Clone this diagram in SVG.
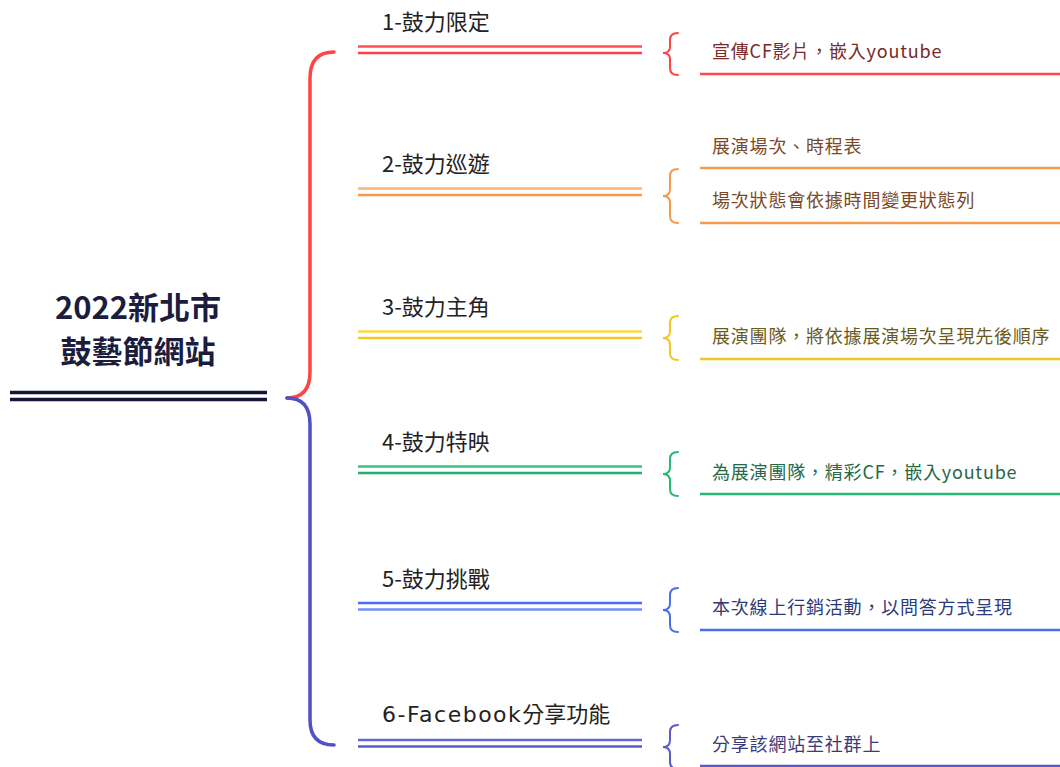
<svg xmlns="http://www.w3.org/2000/svg" width="1060" height="767" viewBox="0 0 1060 767">
<style>
text{font-family:"Noto Sans CJK TC","Noto Sans",sans-serif}
.root{font-size:31px;font-weight:700;fill:#1c1c3c;text-anchor:middle}
.lbl{font-size:22px;fill:#222}
.lat{font-family:"DejaVu Sans",sans-serif;letter-spacing:1.5px}
.leaf{font-size:18px;letter-spacing:0.8px}
.dl{stroke-width:2.6;fill:none}
.ln{stroke-width:2.6;fill:none}
.br{stroke-width:2;fill:none;stroke-linecap:round}
.mb{stroke-width:3.5;fill:none;stroke-linecap:round}
</style>
<rect width="1060" height="767" fill="#fff"/>
<g id="root">
<text class="root" x="138" y="319">2022新北市</text>
<text class="root" x="138" y="363">鼓藝節網站</text>
<line x1="10" y1="392.5" x2="267" y2="392.5" stroke="#14143a" stroke-width="3.5"/>
<line x1="10" y1="399.5" x2="267" y2="399.5" stroke="#14143a" stroke-width="3.5"/>
</g>
<g id="connectors">
<path class="mb" stroke="#ff4444" d="M334,52 Q310,52 310,78 L310,372 Q310,398 287,398"/>
<path class="mb" stroke="#5050c8" d="M287,398 Q310,398 310,424 L310,720 Q310,745 334,745"/>
</g>
<g id="n1">
<text class="lbl" x="382" y="30">1-鼓力限定</text>
<line class="dl" x1="358" y1="46.5" x2="642" y2="46.5" stroke="#ff5050"/>
<line class="dl" x1="358" y1="53" x2="642" y2="53" stroke="#ff4040"/>
<path class="br" stroke="#ff4444" d="M678,33 Q670,33 670,40 L670,47 Q670,53 663,53 Q670,53 670,59 L670,68 Q670,75 678,75"/>
<text class="leaf" x="712" y="58" fill="#7a2828">宣傳CF影片，嵌入youtube</text>
<line class="ln" x1="700" y1="74" x2="1060" y2="74" stroke="#ff4a4a"/>
</g>
<g id="n2">
<text class="lbl" x="382" y="172">2-鼓力巡遊</text>
<line class="dl" x1="358" y1="188.5" x2="642" y2="188.5" stroke="#ffb574"/>
<line class="dl" x1="358" y1="195" x2="642" y2="195" stroke="#f79a48"/>
<path class="br" stroke="#f59a4c" d="M678,169 Q670,169 670,176 L670,189 Q670,196 663,196 Q670,196 670,203 L670,216 Q670,223 678,223"/>
<text class="leaf" x="712" y="153" fill="#7a4a28">展演場次、時程表</text>
<line class="ln" x1="700" y1="168" x2="1060" y2="168" stroke="#f59a4c"/>
<text class="leaf" x="712" y="207" fill="#7a4a28">場次狀態會依據時間變更狀態列</text>
<line class="ln" x1="700" y1="223" x2="1060" y2="223" stroke="#f59a4c"/>
</g>
<g id="n3">
<text class="lbl" x="382" y="315">3-鼓力主角</text>
<line class="dl" x1="358" y1="331.5" x2="642" y2="331.5" stroke="#f8d848"/>
<line class="dl" x1="358" y1="338" x2="642" y2="338" stroke="#f2c820"/>
<path class="br" stroke="#f2c820" d="M678,316 Q670,316 670,323 L670,331 Q670,338 663,338 Q670,338 670,345 L670,353 Q670,360 678,360"/>
<text class="leaf" x="712" y="343" fill="#6a5a1c">展演團隊，將依據展演場次呈現先後順序</text>
<line class="ln" x1="700" y1="359" x2="1060" y2="359" stroke="#f2c820"/>
</g>
<g id="n4">
<text class="lbl" x="382" y="450">4-鼓力特映</text>
<line class="dl" x1="358" y1="466.5" x2="642" y2="466.5" stroke="#34c486"/>
<line class="dl" x1="358" y1="473" x2="642" y2="473" stroke="#22b070"/>
<path class="br" stroke="#26b874" d="M678,452 Q670,452 670,459 L670,467 Q670,474 663,474 Q670,474 670,481 L670,489 Q670,496 678,496"/>
<text class="leaf" x="712" y="479" fill="#266848">為展演團隊，精彩CF，嵌入youtube</text>
<line class="ln" x1="700" y1="494" x2="1060" y2="494" stroke="#26b874"/>
</g>
<g id="n5">
<text class="lbl" x="382" y="587">5-鼓力挑戰</text>
<line class="dl" x1="358" y1="603" x2="642" y2="603" stroke="#4a6ef0"/>
<line class="dl" x1="358" y1="609.5" x2="642" y2="609.5" stroke="#7090f8"/>
<path class="br" stroke="#4a6ef0" d="M678,588 Q670,588 670,595 L670,603 Q670,610 663,610 Q670,610 670,617 L670,625 Q670,632 678,632"/>
<text class="leaf" x="712" y="614" fill="#2c3a78">本次線上行銷活動，以問答方式呈現</text>
<line class="ln" x1="700" y1="630" x2="1060" y2="630" stroke="#4a6ef0"/>
</g>
<g id="n6">
<text class="lbl" x="382" y="722"><tspan class="lat">6-Facebook</tspan>分享功能</text>
<line class="dl" x1="358" y1="740" x2="642" y2="740" stroke="#6666d0"/>
<line class="dl" x1="358" y1="746.5" x2="642" y2="746.5" stroke="#5a5ac8"/>
<path class="br" stroke="#5a5ac8" d="M678,725 Q670,725 670,732 L670,740 Q670,747 663,747 Q670,747 670,754 L670,762 Q670,769 678,769"/>
<text class="leaf" x="712" y="751" fill="#3a3a78">分享該網站至社群上</text>
<line class="ln" x1="700" y1="766" x2="1060" y2="766" stroke="#5a5ac8"/>
</g>
</svg>
